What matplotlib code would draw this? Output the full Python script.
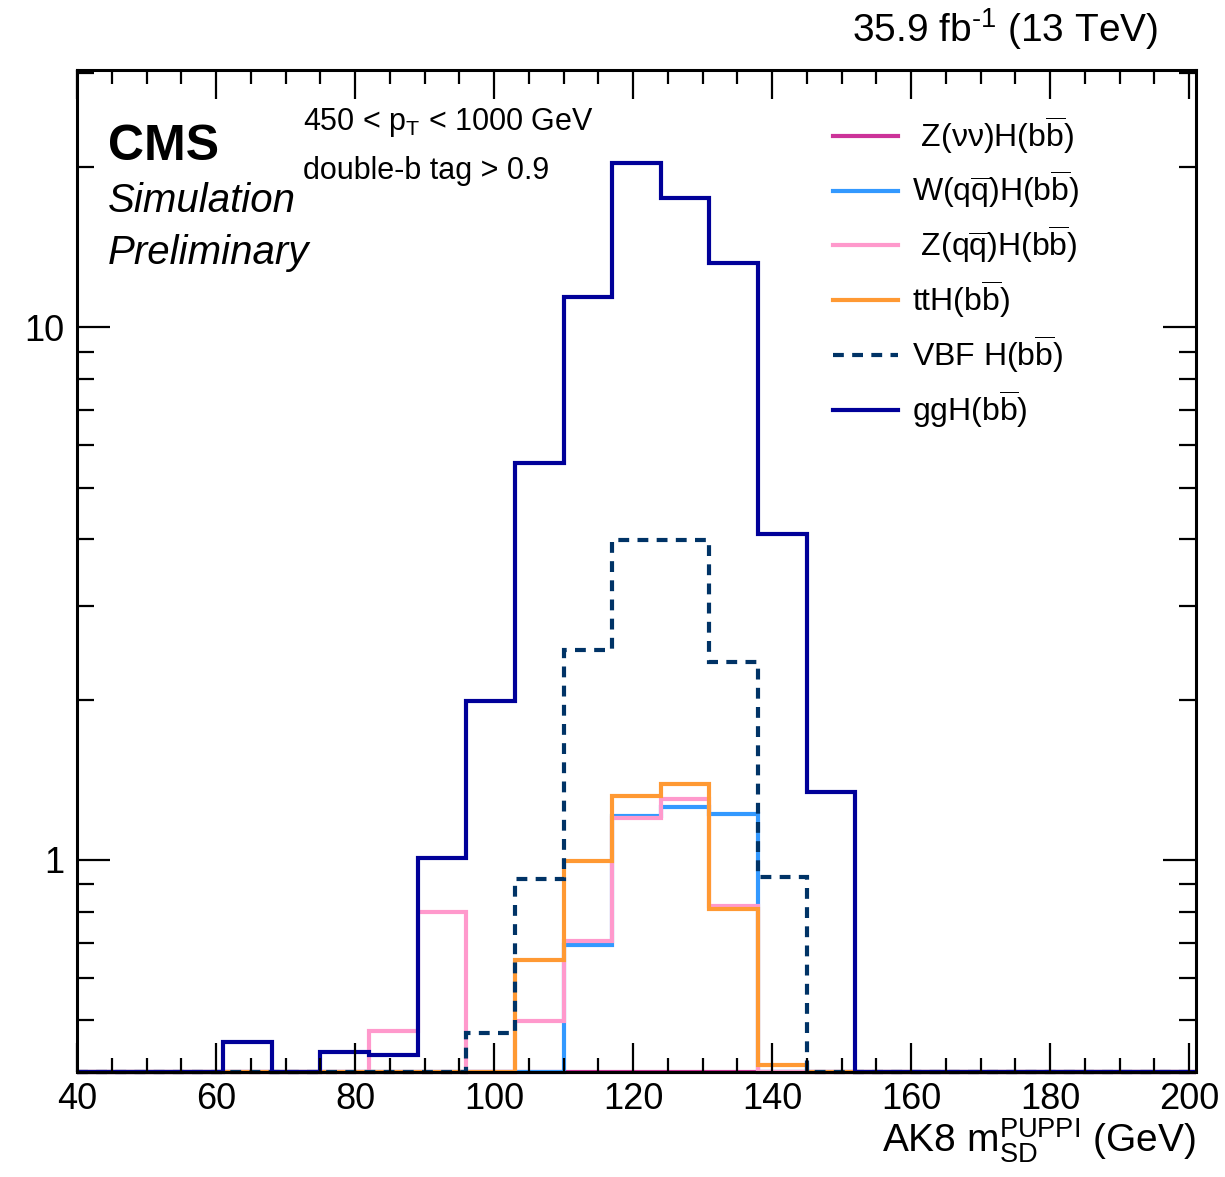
import numpy as np
import matplotlib
matplotlib.use("Agg")
import matplotlib.pyplot as plt
from matplotlib.ticker import FixedLocator, NullFormatter, FixedFormatter

plt.rcParams['font.family'] = ['Liberation Sans', 'DejaVu Sans']
plt.rcParams['mathtext.fontset'] = 'custom'
plt.rcParams['mathtext.rm'] = 'Liberation Sans'
plt.rcParams['mathtext.it'] = 'Liberation Sans:italic'
plt.rcParams['mathtext.bf'] = 'Liberation Sans:bold'

# bin edges: 40 -> 201 in steps of 7 GeV
edges = np.arange(40, 202, 7)

# bin contents (0 = below the plotted range)
#            40   47   54   61    68   75    82    89    96    103   110   117   124   131   138   145   152 ...
ggH  = [0, 0, 0, 0.455, 0, 0.436, 0.43, 1.01, 1.99, 5.56, 11.4, 20.3, 17.5, 13.2, 4.09, 1.34] + [0] * 7
vbf  = [0, 0, 0, 0, 0, 0, 0, 0, 0.473, 0.92, 2.48, 3.98, 3.98, 2.35, 0.93, 0] + [0] * 7
tth  = [0, 0, 0, 0, 0, 0, 0, 0, 0, 0.649, 0.994, 1.32, 1.39, 0.81, 0.412, 0] + [0] * 7
zqq  = [0, 0, 0, 0, 0, 0, 0.477, 0.80, 0, 0.499, 0.705, 1.20, 1.30, 0.82, 0, 0] + [0] * 7
wqq  = [0, 0, 0, 0, 0, 0, 0, 0, 0, 0, 0.693, 1.21, 1.26, 1.22, 0, 0] + [0] * 7
znn  = [0] * 23

ymin, ymax = 0.4, 30.4

names = [' Z(νν)H(b$\\overline{\\mathrm{b}}$)', 'W(q$\\overline{\\mathrm{q}}$)H(b$\\overline{\\mathrm{b}}$)',
         ' Z(q$\\overline{\\mathrm{q}}$)H(b$\\overline{\\mathrm{b}}$)', 'ttH(b$\\overline{\\mathrm{b}}$)',
         'VBF H(b$\\overline{\\mathrm{b}}$)', 'ggH(b$\\overline{\\mathrm{b}}$)']
series = [znn, wqq, zqq, tth, vbf, ggH]
colors = ['#cc3399', '#3399ff', '#ff99cc', '#ff9933', '#003366', '#000099']
styles = ['-', '-', '-', '-', (0, (2.6, 2.0)), '-']

fig = plt.figure(figsize=(12.25, 11.77), dpi=100)
ax = fig.add_axes([77 / 1225, 1 - 1072 / 1177, (1196 - 77) / 1225, (1072 - 70) / 1177])

for name, vals, c, ls in zip(names, series, colors, styles):
    v = np.array(vals, dtype=float)
    v = np.where(v > ymin, v, ymin)
    ax.stairs(v, edges, baseline=None, color=c, lw=3, ls=ls, clip_on=False, label=name)

ax.set_yscale('log')
ax.set_xlim(40, 201)
ax.set_ylim(ymin, ymax)

ax.xaxis.set_major_locator(FixedLocator([40, 60, 80, 100, 120, 140, 160, 180, 200]))
ax.xaxis.set_minor_locator(FixedLocator(np.arange(45, 201, 5)))
ax.yaxis.set_major_locator(FixedLocator([1, 10]))
ax.yaxis.set_major_formatter(FixedFormatter(['1', '10']))
ax.yaxis.set_minor_locator(FixedLocator([0.5, 0.6, 0.7, 0.8, 0.9, 2, 3, 4, 5, 6, 7, 8, 9, 20, 30]))
ax.yaxis.set_minor_formatter(NullFormatter())

ax.tick_params(axis='both', which='both', direction='in', top=True, right=True,
               labelsize=26, width=1.6, colors='black')
ax.tick_params(axis='x', which='major', length=21, pad=7)
ax.tick_params(axis='x', which='minor', length=10)
ax.tick_params(axis='y', which='major', length=24, pad=9)
ax.tick_params(axis='y', which='minor', length=12)
for s in ax.spines.values():
    s.set_linewidth(2.2)

ax.set_xlabel('AK8 m$_{\\mathrm{SD}}^{\\mathrm{PUPPI}}$ (GeV)', fontsize=28, loc='right', labelpad=0)

# legend
leg_handles = []
for name, c, ls in zip(names, colors, styles):
    leg_handles.append(plt.Line2D([], [], color=c, lw=3, ls=ls))
leg = ax.legend(leg_handles, names, loc='upper left', bbox_to_anchor=(833 / 1225, 1 - 114 / 1177),
                bbox_transform=fig.transFigure, frameon=False, fontsize=23,
                handlelength=2.05, handletextpad=0.42, labelspacing=0.40, borderpad=0, borderaxespad=0)

# labels
fig.text(108 / 1225, 1 - 160 / 1177, 'CMS', fontsize=36, fontweight='bold', va='baseline')
fig.text(108 / 1225, 1 - 212 / 1177, 'Simulation', fontsize=29, style='italic', va='baseline')
fig.text(108 / 1225, 1 - 264 / 1177, 'Preliminary', fontsize=29, style='italic', va='baseline')
fig.text(303 / 1225, 1 - 130 / 1177, '450 < p$_{\\mathrm{T}}$ < 1000 GeV', fontsize=22, va='baseline')
fig.text(303 / 1225, 1 - 179 / 1177, 'double-b tag > 0.9', fontsize=22, va='baseline')
fig.text(1158 / 1225, 1 - 42 / 1177, '35.9 fb$^{\\mathrm{\u2010 1}}$ (13 TeV)', fontsize=28, ha='right', va='baseline')

fig.savefig('out.png', dpi=100)
